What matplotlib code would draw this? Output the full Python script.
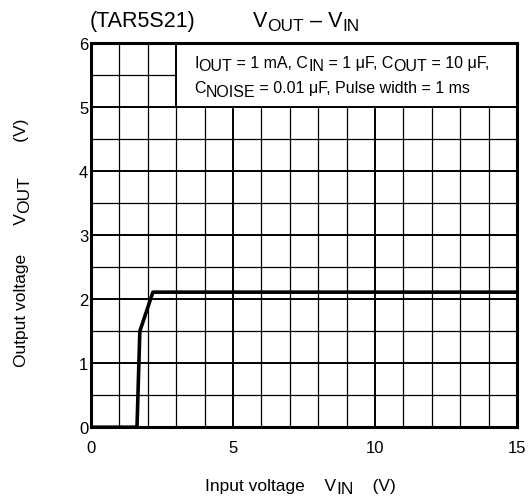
import numpy as np
import matplotlib.pyplot as plt
from matplotlib.transforms import offset_copy

plt.rcParams['font.family'] = ['Liberation Sans', 'DejaVu Sans']

# VOUT vs VIN curve
vin = [0, 1.62, 1.72, 2.18, 15]
vout = [0, 0, 1.5, 2.11, 2.11]

x_ticks = [0, 5, 10, 15]
y_ticks = [0, 1, 2, 3, 4, 5, 6]

# text runs: (string, is_subscript)
title_left = [("(TAR5S21)", False)]
title_right = [("V", False), ("OUT", True), (" – V", False), ("IN", True)]
cond_line1 = [("I", False), ("OUT", True), (" = 1 mA, C", False), ("IN", True),
              (" = 1 μF, C", False), ("OUT", True), (" = 10 μF,", False)]
cond_line2 = [("C", False), ("NOISE", True),
              (" = 0.01 μF, Pulse width = 1 ms", False)]
x_label = [("Input voltage", False), ("    V", False), ("IN", True),
           ("    (V)", False)]
y_label = [("Output voltage", False), ("      V", False), ("OUT", True),
           ("       (V)", False)]


def rich_text(fig, x, y, parts, size, transform, rotation=0, sub_scale=1.0,
              zorder=4):
    # lay out runs one after another, subscripts dropped a little
    r = fig.canvas.get_renderer()
    dpi = fig.dpi
    off = 0.0
    for s, sub in parts:
        shift = -0.2 * size * dpi / 72 if sub else 0.0
        fs = size * sub_scale if sub else size
        if rotation == 0:
            dx, dy = off, shift
        else:
            dx, dy = -shift, off
        tr = offset_copy(transform, fig=fig, x=dx, y=dy, units='dots')
        t = fig.text(x, y, s, transform=tr, fontsize=fs, rotation=rotation,
                     ha='left', va='baseline', rotation_mode='anchor',
                     zorder=zorder)
        ext = t.get_window_extent(r)
        off += ext.width if rotation == 0 else ext.height


def main():
    fig = plt.figure(figsize=(5.32, 5.02), dpi=100)
    ax = fig.add_axes([0.171, 0.147, 0.801, 0.765])
    ax.set_xlim(0, 15)
    ax.set_ylim(0, 6)

    # grid: 1 V steps on x, 0.5 V steps on y, majors a bit heavier
    for x in np.arange(1, 15):
        lw = 1.4 if x % 5 == 0 else 0.9
        ax.axvline(x, color='black', lw=lw, zorder=1)
    for y in np.arange(0.5, 6, 0.5):
        lw = 1.4 if y % 1 == 0 else 0.9
        ax.axhline(y, color='black', lw=lw, zorder=1)

    # condition box covering the top right of the grid
    ax.fill_between([3, 15], 5, 6, color='white', zorder=2)
    ax.plot([3, 3, 15], [6, 5, 5], color='black', lw=1.4, zorder=3)

    ax.plot(vin, vout, color='black', lw=2.6, zorder=5)

    for s in ax.spines.values():
        s.set_linewidth(2.2)
        s.set_zorder(6)
    ax.set_xticks(x_ticks)
    ax.set_yticks(y_ticks)
    ax.tick_params(length=0, labelsize=12)
    ax.tick_params(axis='x', pad=9)
    ax.tick_params(axis='y', pad=2)

    rich_text(fig, 3.63, 5.63, cond_line1, 11.5, ax.transData)
    rich_text(fig, 3.63, 5.23, cond_line2, 11.5, ax.transData)

    rich_text(fig, 90 / 532, 1 - 27 / 502, title_left, 15.5, fig.transFigure)
    rich_text(fig, 253 / 532, 1 - 27 / 502, title_right, 15.5,
              fig.transFigure, sub_scale=0.8)
    rich_text(fig, 205 / 532, 1 - 491 / 502, x_label, 12.5, fig.transFigure)
    rich_text(fig, 26 / 532, 1 - 367 / 502, y_label, 12.5, fig.transFigure,
              rotation=90)

    fig.savefig('out.png', dpi=100)
    return 0


if __name__ == "__main__":
    main()
